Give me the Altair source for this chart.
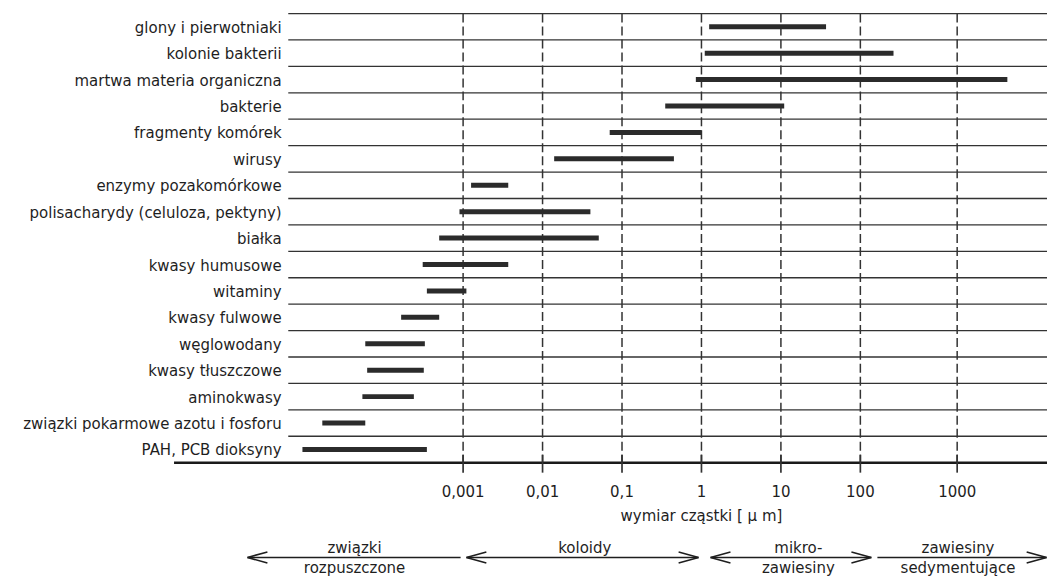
import altair as alt
import pandas as pd

# ---- data ----
categories = [
    "glony i pierwotniaki", "kolonie bakterii", "martwa materia organiczna",
    "bakterie", "fragmenty komórek", "wirusy", "enzymy pozakomórkowe",
    "polisacharydy (celuloza, pektyny)", "białka", "kwasy humusowe", "witaminy",
    "kwasy fulwowe", "węglowodany", "kwasy tłuszczowe", "aminokwasy",
    "związki pokarmowe azotu i fosforu", "PAH, PCB dioksyny",
]
size_min = [1.25, 1.1, 0.85, 0.35, 0.07, 0.014, 0.00126, 0.0009, 0.0005,
            0.00031, 0.00035, 0.000166, 0.0000587, 0.000062, 0.000054,
            0.0000169, 0.0000095]
size_max = [37, 220, 3300, 11, 1.0, 0.45, 0.0037, 0.04, 0.051, 0.0037,
            0.0011, 0.0005, 0.00033, 0.00032, 0.00024, 0.0000587, 0.00035]

tick_values = [0.001, 0.01, 0.1, 1, 10, 100, 1000]
tick_labels = ["0,001", "0,01", "0,1", "1", "10", "100", "1000"]

# size classes shown with arrows under the axis
class_start = [1.93e-6, 0.0011, 1.3, 150]
class_end = [0.00093, 0.92, 130, 8400]
class_center = [4.3e-5, 0.034, 16.6, 1020]
class_upper = ["związki", "koloidy", "mikro-", "zawiesiny"]
class_lower = ["rozpuszczone", "", "zawiesiny", "sedymentujące"]
left_heads = [1.93e-6, 0.0011, 1.3]
right_heads = [0.92, 130, 8400]

axis_title = "wymiar cząstki [ μ m]"

# ---- helper positions (in data units) ----
label_x = 5.2e-6
row_line_start = 6.3e-6
bottom_line_start = 2.3e-7
x_max = 8475

W, H = 1041, 450
n = len(categories)
FONT = "DejaVu Sans"
INK = "#1e1e1e"
LINE = "#333333"

x_scale = alt.Scale(type="log", domain=[1.87e-9, 100, 1000, x_max],
                    range=[0, 854, 951, W], nice=False)
y_scale = alt.Scale(domain=[0, n], reverse=True, nice=False, zero=False)

rows = pd.DataFrame({
    "cat": categories,
    "lo": size_min,
    "hi": size_max,
    "row": [i + 0.5 for i in range(n)],
    "lx": [label_x] * n,
})
row_lines = pd.DataFrame({
    "y": list(range(n)),
    "x0": [row_line_start] * n,
    "x1": [x_max] * n,
})
bottom_line = pd.DataFrame({"y": [n], "x0": [bottom_line_start], "x1": [x_max]})
grid = pd.DataFrame({"v": tick_values, "lab": tick_labels,
                     "y0": [0] * len(tick_values), "y1": [n] * len(tick_values)})
classes = pd.DataFrame({"s": class_start, "e": class_end, "c": class_center,
                        "up": class_upper, "low": class_lower})
lh = pd.DataFrame({"x": left_heads})
rh = pd.DataFrame({"x": right_heads})
title_df = pd.DataFrame({"x": [1], "t": [axis_title]})

X = lambda f: alt.X(f, scale=x_scale, axis=None)
Y = lambda f: alt.Y(f, scale=y_scale, axis=None)

grid_layer = alt.Chart(grid).mark_rule(
    color=LINE, strokeWidth=1.5, strokeDash=[9, 4]
).encode(x=X("v:Q"), y=Y("y0:Q"), y2="y1:Q")

ticks = alt.Chart(grid).mark_rule(color=LINE, strokeWidth=1.7).encode(
    x=X("v:Q"), y=alt.value(442), y2=alt.value(460))

tick_text = alt.Chart(grid).mark_text(
    align="center", baseline="alphabetic", font=FONT, fontSize=15, color=INK
).encode(x=X("v:Q"), y=alt.value(484), text="lab:N")

row_layer = alt.Chart(row_lines).mark_rule(color=LINE, strokeWidth=1.3).encode(
    x=X("x0:Q"), x2="x1:Q", y=Y("y:Q"))

bottom_layer = alt.Chart(bottom_line).mark_rule(color="#1a1a1a", strokeWidth=2.6).encode(
    x=X("x0:Q"), x2="x1:Q", y=Y("y:Q"))

bars = alt.Chart(rows).mark_rule(color="#2b2b2b", strokeWidth=5, strokeCap="butt").encode(
    x=X("lo:Q"), x2="hi:Q", y=Y("row:Q"))

labels = alt.Chart(rows).mark_text(
    align="right", baseline="middle", font=FONT, fontSize=15, color=INK, dy=1
).encode(x=X("lx:Q"), y=Y("row:Q"), text="cat:N")

title_layer = alt.Chart(title_df).mark_text(
    align="center", baseline="alphabetic", font=FONT, fontSize=15, color=INK
).encode(x=X("x:Q"), y=alt.value(508), text="t:N")

shafts = alt.Chart(classes).mark_rule(color=INK, strokeWidth=1.6).encode(
    x=X("s:Q"), x2="e:Q", y=alt.value(545))

chev_left = "M-1,0L1,-0.55M-1,0L1,0.55"
chev_right = "M1,0L-1,-0.55M1,0L-1,0.55"
heads_l = alt.Chart(lh).mark_point(
    shape=chev_left, size=400, filled=False, color=INK, strokeWidth=1.6,
    opacity=1, xOffset=10
).encode(x=X("x:Q"), y=alt.value(545))
heads_r = alt.Chart(rh).mark_point(
    shape=chev_right, size=400, filled=False, color=INK, strokeWidth=1.6,
    opacity=1, xOffset=-10
).encode(x=X("x:Q"), y=alt.value(545))

upper_txt = alt.Chart(classes).mark_text(
    align="center", baseline="alphabetic", font=FONT, fontSize=15, color=INK
).encode(x=X("c:Q"), y=alt.value(541), text="up:N")
lower_txt = alt.Chart(classes).mark_text(
    align="center", baseline="alphabetic", font=FONT, fontSize=15, color=INK
).encode(x=X("c:Q"), y=alt.value(561), text="low:N")

chart = alt.layer(
    grid_layer, row_layer, bottom_layer, ticks, tick_text, bars, labels,
    title_layer, shafts, heads_l, heads_r, upper_txt, lower_txt,
).properties(
    width=W, height=H,
    autosize=alt.AutoSizeParams(type="none"),
    padding={"left": 0, "top": 5, "right": 0, "bottom": 116},
    background="white",
).configure_view(stroke=None)

chart.save("out.html", embed_options={"renderer": "svg", "actions": False})
